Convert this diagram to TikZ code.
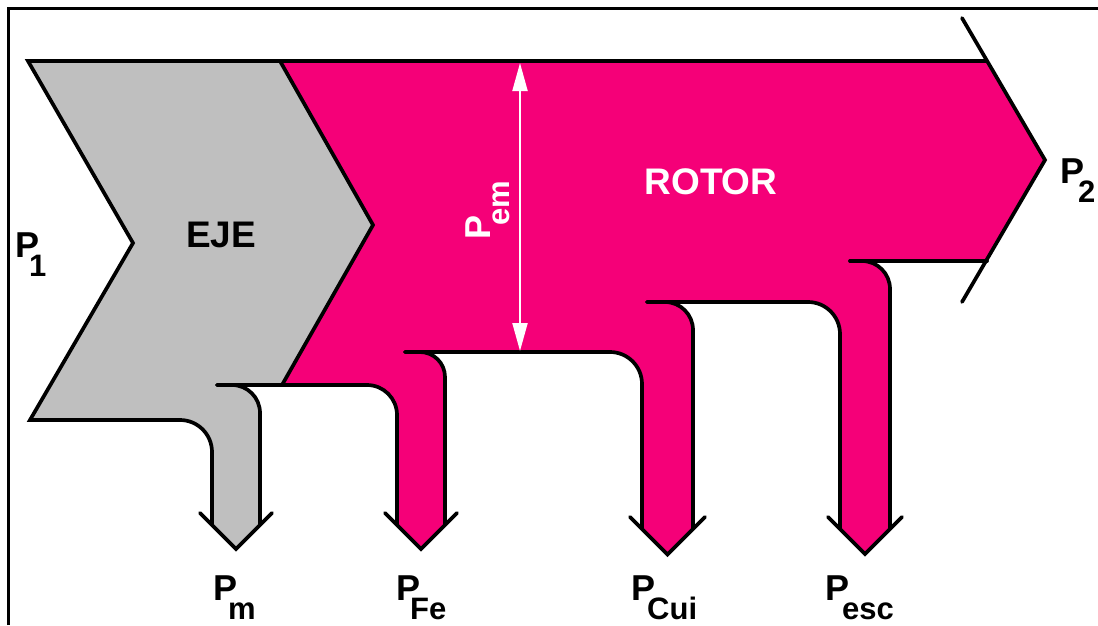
\documentclass[tikz,border=0pt]{standalone}
\usepackage{fontspec}
\setmainfont{Liberation Sans}
\usetikzlibrary{arrows.meta}
\definecolor{rotorpink}{RGB}{245,0,120}
\definecolor{ejegray}{RGB}{191,191,191}
\newcommand\subtxt[2]{\kern#1\raisebox{-19pt}{\fontsize{31}{31}\selectfont #2}}
\begin{document}
\begin{tikzpicture}[x=1pt,y=-1pt,
  outline/.style={line width=3.7pt, line join=miter, line cap=round},
  bigtxt/.style={font=\fontsize{37}{37}\selectfont\bfseries, inner sep=0pt},
  lbl/.style={font=\fontsize{36}{36}\selectfont\bfseries, inner sep=0pt, anchor=base west},
  pemarrow/.style={white, line width=2pt, {Triangle[length=28pt,width=15pt]}-{Triangle[length=28pt,width=15pt]}}]
\useasboundingbox (0,0) rectangle (1098,625);
\fill[white] (0,0) rectangle (1098,625);
% frame
\draw[line width=3pt] (8,625) -- (8,8) -- (1098,8);
% gray fill (EJE)
\fill[ejegray] (28,61) -- (280,61) -- (373,225) -- (282,385) -- (232,385)
  arc[start angle=-90,end angle=0,radius=28] -- (260,525) -- (236,549) -- (212,525)
  -- (212,452) arc[start angle=0,end angle=-90,radius=32] -- (30,420) -- (133,243) -- cycle;
% pink fill (ROTOR)
\fill[rotorpink] (280,61) -- (987,61) -- (1045,160) -- (987,261) -- (862,261)
  arc[start angle=-90,end angle=0,radius=28] -- (890,529) -- (865,554) -- (840,529)
  -- (840,334) arc[start angle=0,end angle=-90,radius=32] -- (665,302)
  arc[start angle=-90,end angle=0,radius=28] -- (693,529) -- (667.5,554.5) -- (642,529)
  -- (642,384) arc[start angle=0,end angle=-90,radius=32] -- (420,352)
  arc[start angle=-90,end angle=0,radius=25] -- (445,525) -- (421,549) -- (397,525)
  -- (397,415) arc[start angle=0,end angle=-90,radius=30] -- (282,385) -- (373,225) -- cycle;
% outlines
\draw[outline] (987,61) -- (28,61) -- (133,243) -- (30,420) -- (180,420)
  arc[start angle=-90,end angle=0,radius=32] -- (212,525);
\draw[outline] (280,61) -- (373,225) -- (282,385);
\draw[outline] (217,385) -- (232,385) arc[start angle=-90,end angle=0,radius=28] -- (260,525);
\draw[outline] (217,385) -- (367,385) arc[start angle=-90,end angle=0,radius=30] -- (397,525);
\draw[outline] (405,352) -- (420,352) arc[start angle=-90,end angle=0,radius=25] -- (445,525);
\draw[outline] (405,352) -- (610,352) arc[start angle=-90,end angle=0,radius=32] -- (642,529);
\draw[outline] (647,302) -- (665,302) arc[start angle=-90,end angle=0,radius=28] -- (693,529);
\draw[outline] (647,302) -- (808,302) arc[start angle=-90,end angle=0,radius=32] -- (840,529);
\draw[outline] (850,261) -- (862,261) arc[start angle=-90,end angle=0,radius=28] -- (890,529);
\draw[outline] (850,261) -- (987,261);
% arrow heads
\draw[outline] (200,513) -- (236,549) -- (272,513);
\draw[outline] (385,513) -- (421,549) -- (457,513);
\draw[outline] (630,517) -- (667.5,554.5) -- (705,517);
\draw[outline] (828,517) -- (865,554) -- (902,517);
\draw[outline] (962,18) -- (1045,160) -- (962,302);
% Pem double arrow
\coordinate (pemtop) at (520,63);
\coordinate (pembot) at (520,351);
\draw[pemarrow] (pemtop) -- (pembot);
% texts
\node[bigtxt] (eje) at (221,235) {EJE};
\node[bigtxt, white] (rotor) at (711,182) {ROTOR};
\node[bigtxt, white, rotate=90, font=\fontsize{36}{36}\selectfont\bfseries] (pem) at (488,210) {P\subtxt{-10pt}{em}};
\node[lbl] (p1) at (15,257) {P\subtxt{-10pt}{1}};
\node[lbl] (p2) at (1060,183) {P\subtxt{-6pt}{2}};
\node[lbl] (pm) at (213,600) {P\subtxt{-9pt}{m}};
\node[lbl] (pfe) at (396,600) {P\subtxt{-10pt}{Fe}};
\node[lbl] (pcui) at (631,600) {P\subtxt{-8pt}{Cui}};
\node[lbl] (pesc) at (825,600) {P\subtxt{-7pt}{esc}};
\end{tikzpicture}
\end{document}
